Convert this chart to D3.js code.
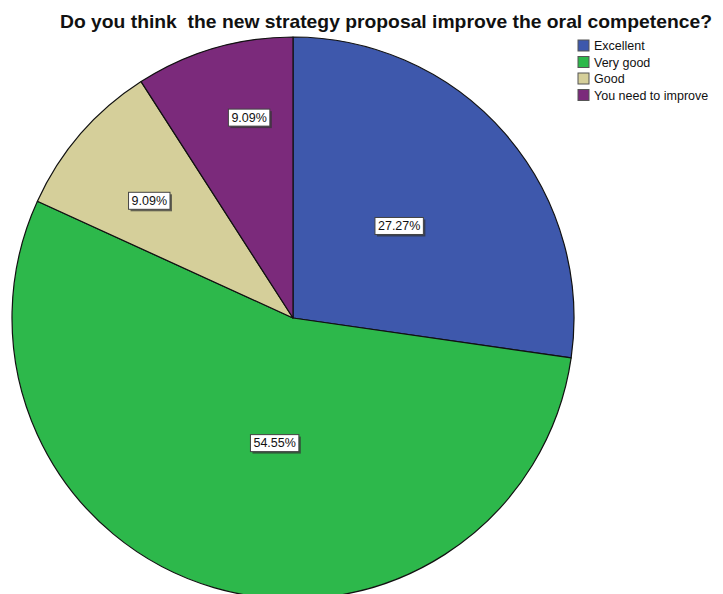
<!DOCTYPE html>
<html><head><meta charset="utf-8">
<script src="https://cdn.jsdelivr.net/npm/d3@7"></script>
<style>html,body{margin:0;padding:0;background:#fff;}svg{display:block;}</style>
</head><body>
<svg id="chart" width="723" height="594"></svg>
<script>
const categories = ["Excellent", "Very good", "Good", "You need to improve"];
const values = [27.27, 54.55, 9.09, 9.09];
const labels = ["27.27%", "54.55%", "9.09%", "9.09%"];
const colors = ["#3e58ac", "#2db84b", "#d5cf9a", "#7b2a7b"];
const titleText = "Do you think  the new strategy proposal improve the oral competence?";

// layout
const W = 723, H = 594;
const cx = 293, cy = 318, R = 281;
const labelFrac = [0.5, 0.45, 0.66, 0.73];
const labelAngleShift = [0, -0.14, -0.03, 0.07];

const svg = d3.select("#chart");
svg.append("rect").attr("width", W).attr("height", H).attr("fill", "#fff");

const pie = d3.pie().value(d => d).sort(null);
const arcs = pie(values);
const arc = d3.arc().innerRadius(0).outerRadius(R);

const g = svg.append("g").attr("transform", `translate(${cx},${cy})`);
g.selectAll("path").data(arcs).join("path")
  .attr("d", arc)
  .attr("fill", (d, i) => colors[i])
  .attr("stroke", "#111")
  .attr("stroke-width", 1.2)
  .attr("stroke-linejoin", "round");

// labels
arcs.forEach((d, i) => {
  const a = (d.startAngle + d.endAngle) / 2 + labelAngleShift[i];
  const r = R * labelFrac[i];
  const x = Math.sin(a) * r, y = -Math.cos(a) * r;
  const lg = g.append("g").attr("transform", `translate(${x},${y})`);
  const t = lg.append("text")
    .attr("text-anchor", "middle")
    .attr("dominant-baseline", "central")
    .attr("font-family", "Liberation Sans, Arial, sans-serif")
    .attr("font-size", 12.5)
    .attr("fill", "#111")
    .text(labels[i]);
  const bb = t.node().getBBox();
  const pw = 3, ph = 1.5;
  lg.insert("rect", "text")
    .attr("x", bb.x - pw + 2).attr("y", bb.y - ph + 2)
    .attr("width", bb.width + 2 * pw).attr("height", bb.height + 2 * ph)
    .attr("fill", "#333").attr("opacity", 0.7);
  lg.insert("rect", "text")
    .attr("x", bb.x - pw).attr("y", bb.y - ph)
    .attr("width", bb.width + 2 * pw).attr("height", bb.height + 2 * ph)
    .attr("fill", "#fff").attr("stroke", "#444").attr("stroke-width", 1);
});

// title
svg.append("text")
  .attr("x", 60).attr("y", 27.5)
  .attr("font-family", "Liberation Sans, Arial, sans-serif")
  .attr("font-weight", "bold")
  .attr("font-size", 18.5)
  .attr("fill", "#111")
  .attr("textLength", 652)
  .attr("lengthAdjust", "spacingAndGlyphs")
  .style("white-space", "pre")
  .text(titleText);

// legend
const leg = svg.append("g").attr("transform", "translate(578,40)");
const rowH = 16.5;
categories.forEach((c, i) => {
  const row = leg.append("g").attr("transform", `translate(0,${i * rowH})`);
  row.append("rect").attr("x", 0).attr("y", 0).attr("width", 11).attr("height", 11)
    .attr("fill", colors[i]).attr("stroke", "#555").attr("stroke-width", 1);
  row.append("text").attr("x", 16).attr("y", 6)
    .attr("dominant-baseline", "central")
    .attr("font-family", "Liberation Sans, Arial, sans-serif")
    .attr("font-size", 12.5)
    .attr("fill", "#111")
    .text(c);
});
</script>
</body></html>
